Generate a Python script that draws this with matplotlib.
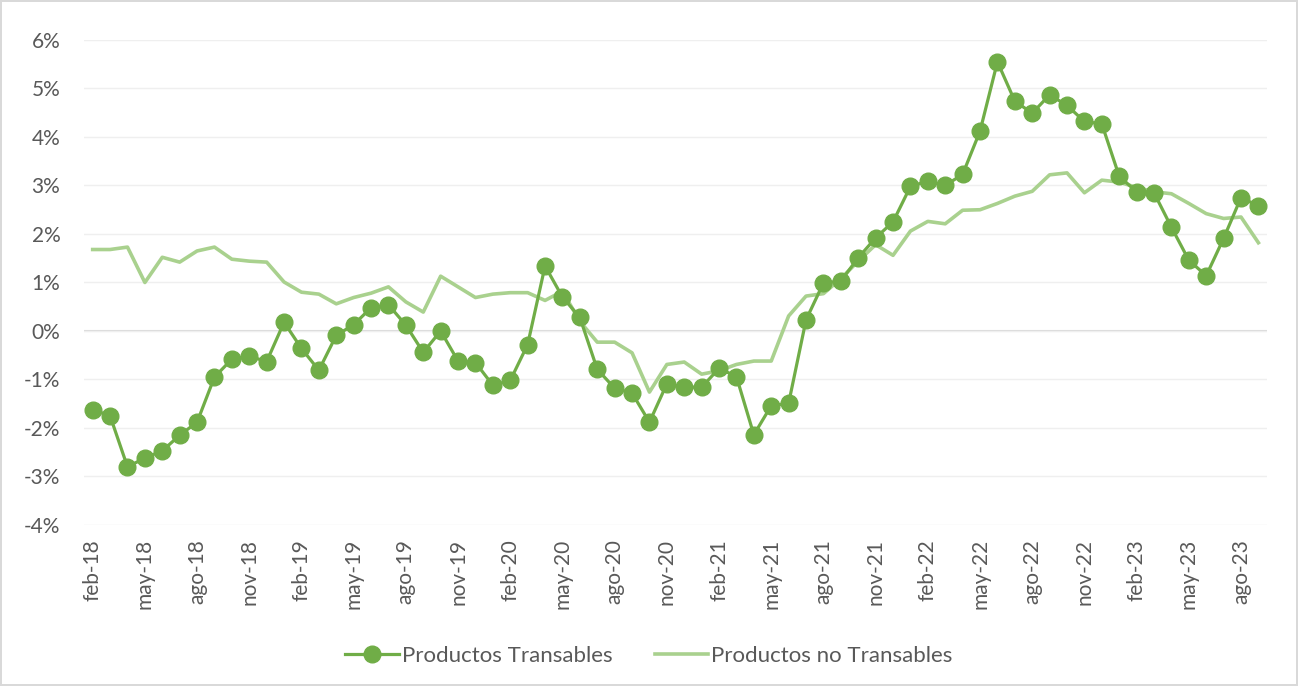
"""
Inflación de productos transables vs no transables, feb-18 a sep-23.
"""

import matplotlib

matplotlib.use("Agg")
import matplotlib.pyplot as plt
from matplotlib.ticker import FuncFormatter, MultipleLocator

_DARK_GREEN = "#70AD47"
_LIGHT_GREEN = "#A9D18E"
_TEXT = "#595959"

_MESES = ["ene", "feb", "mar", "abr", "may", "jun",
          "jul", "ago", "sep", "oct", "nov", "dic"]

# feb-18 ... sep-23, one label per month
months = [f"{_MESES[(m - 1) % 12]}-{18 + (m - 1) // 12}" for m in range(2, 2 + 68)]

transables = [
    -1.62, -1.75, -2.80, -2.62, -2.47, -2.15, -1.88, -0.95, -0.58, -0.52, -0.63,
    0.18, -0.36, -0.81, -0.09, 0.13, 0.48, 0.54, 0.12, -0.44, 0.00, -0.62, -0.65,
    -1.12, -1.02, -0.28, 1.34, 0.70, 0.28, -0.79, -1.18, -1.28, -1.88, -1.09,
    -1.16, -1.16, -0.77, -0.94, -2.14, -1.54, -1.49, 0.23, 0.99, 1.03, 1.51,
    1.92, 2.25, 2.98, 3.09, 3.00, 3.23, 4.12, 5.55, 4.74, 4.49, 4.87, 4.65,
    4.32, 4.27, 3.19, 2.87, 2.85, 2.14, 1.46, 1.14, 1.91, 2.75, 2.58,
]

no_transables = [
    1.68, 1.68, 1.73, 1.00, 1.52, 1.42, 1.65, 1.73, 1.48, 1.44, 1.42,
    1.01, 0.80, 0.76, 0.56, 0.69, 0.78, 0.91, 0.60, 0.39, 1.13, 0.91, 0.69,
    0.76, 0.79, 0.79, 0.63, 0.82, 0.20, -0.23, -0.23, -0.45, -1.26, -0.69,
    -0.64, -0.89, -0.82, -0.69, -0.62, -0.62, 0.31, 0.72, 0.77, 1.08, 1.44,
    1.78, 1.56, 2.06, 2.26, 2.21, 2.49, 2.50, 2.63, 2.78, 2.88, 3.22, 3.26,
    2.85, 3.11, 3.07, 2.96, 2.87, 2.83, 2.63, 2.42, 2.32, 2.35, 1.82,
]

plt.rcParams["font.family"] = ["Lato", "DejaVu Sans"]

fig = plt.figure(figsize=(12.98, 6.86), dpi=100)
fig.patch.set_edgecolor("#D9D9D9")
fig.patch.set_linewidth(1.5)
ax = fig.add_axes([0.0647, 0.2347, 0.9115, 0.707])

x = list(range(len(months)))
ax.plot(x, transables, color=_DARK_GREEN, linewidth=2.3, marker="o",
        markersize=12, label="Productos Transables", zorder=3)
ax.plot(x, no_transables, color=_LIGHT_GREEN, linewidth=2.6,
        label="Productos no Transables", zorder=2)

ax.set_xlim(-0.5, len(months) - 0.5)
ax.set_ylim(-4, 6)
ax.yaxis.set_major_locator(MultipleLocator(1))
ax.yaxis.set_major_formatter(FuncFormatter(lambda v, _: f"{v:.0f}%"))
ax.grid(True, axis="y", color="#EFEFEF", linewidth=1.0, zorder=0)
ax.axhline(0, color="#D9D9D9", linewidth=1.5, zorder=1)

ax.set_xticks(x[::3])
ax.set_xticklabels(months[::3], rotation=90)
ax.tick_params(axis="both", length=0, labelsize=15, colors=_TEXT)
ax.tick_params(axis="x", pad=10)
ax.tick_params(axis="y", pad=17)
for side in ax.spines.values():
    side.set_visible(False)

fig.legend(loc="center", bbox_to_anchor=(0.5, 0.044), ncol=2, frameon=False,
           fontsize=16, labelcolor=_TEXT, handlelength=2.4, columnspacing=1.9,
           handletextpad=0.15)

fig.savefig("out.png", dpi=100)
plt.close(fig)
